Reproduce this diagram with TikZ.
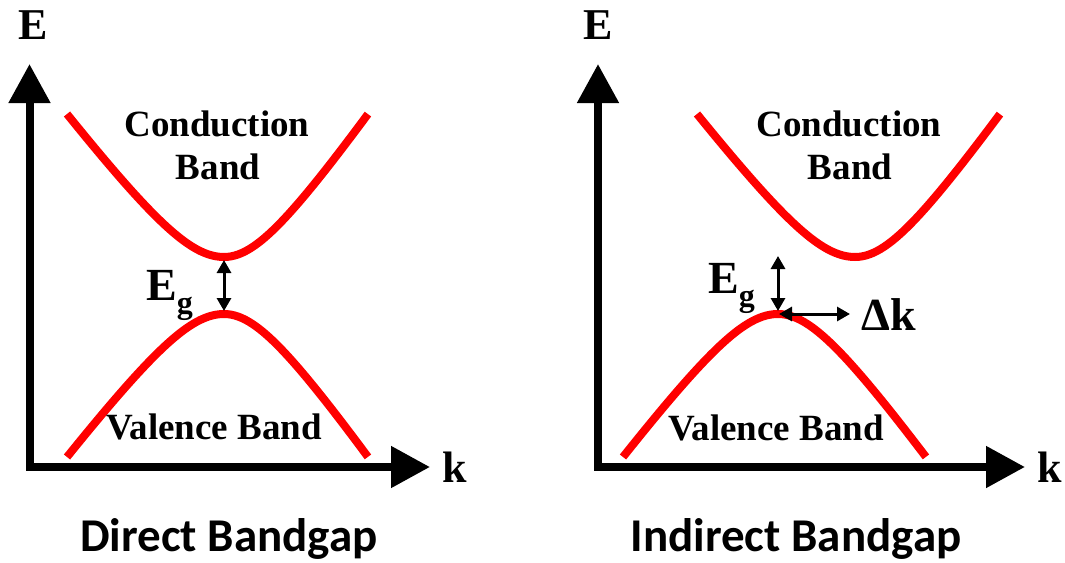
\documentclass[tikz,border=0pt]{standalone}
\usepackage{fontspec}
\setmainfont{Liberation Serif}
\newfontfamily\capfont{Carlito}
\usetikzlibrary{positioning, arrows.meta}

\begin{document}
\begin{tikzpicture}[
		x=1pt, y=-1pt,
		% normalised band shape, u in [-1,1]
		declare function={hyp(\u)=(sqrt(1+(2.6*\u)^2)-1)/(sqrt(1+2.6^2)-1);},
		% Styles for the axes and the bands
		axis/.style={
			line width=8pt, line join=miter,
			{Triangle[length=39pt, width=40pt]}-{Triangle[length=39pt, width=40pt]}
		},
		band/.style={line width=8pt, red, samples=81, smooth},
		gaparrow/.style={
			line width=3pt,
			{Triangle[length=13pt, width=14pt]}-{Triangle[length=13pt, width=14pt]}
		},
		% Styles for the labels
		axislabel/.style={font=\fontsize{44}{44}\selectfont\bfseries, inner sep=0pt, anchor=base},
		gaplabel/.style={font=\fontsize{46}{46}\selectfont\bfseries, inner sep=0pt, anchor=base west},
		bandlabel/.style={font=\fontsize{37}{37}\selectfont\bfseries, inner sep=0pt, anchor=base},
		caption/.style={font=\capfont\fontsize{47}{47}\selectfont\bfseries, inner sep=0pt, anchor=base}
		]
		
		\useasboundingbox (0,0) rectangle (1065,562);
		
		% ==========================================
		% 1. THE LEFT: Direct Bandgap
		% ==========================================
		\coordinate (d_origin) at (29.5,467);
		\coordinate (d_ytip) at (29.5,64);
		\coordinate (d_xtip) at (430,467);
		\draw[axis] (d_ytip) -- (d_origin) -- (d_xtip);
		\node[axislabel] (d_E) at (33,39) {E};
		\node[axislabel] (d_k) at (455,482) {k};
		
		% Conduction and valence bands
		\draw[band, domain=-1:1] plot ({224+\x*(\x<0 ? 157 : 144)}, {257-143*hyp(\x)});
		\draw[band, domain=-1:1] plot ({224+\x*(\x<0 ? 157 : 144)}, {314+143*hyp(\x)});
		\node[bandlabel] (d_cb1) at (217,136) {Conduction};
		\node[bandlabel] (d_cb2) at (218,179) {Band};
		\node[bandlabel] (d_vb) at (214,439) {Valence Band};
		
		% Gap arrow
		\coordinate (d_cbmin) at (224,260);
		\coordinate (d_vbmax) at (224,311);
		\draw[gaparrow] (d_cbmin) -- (d_vbmax);
		\node[gaplabel] (d_Eg) at (146,300)
		{E\raisebox{-13pt}{\fontsize{32}{32}\selectfont g}};
		
		\node[caption] (d_title) at (229,551) {Direct Bandgap};
		
		% ==========================================
		% 2. THE RIGHT: Indirect Bandgap
		% ==========================================
		\coordinate (i_origin) at (598,467);
		\coordinate (i_ytip) at (598,64);
		\coordinate (i_xtip) at (1025,467);
		\draw[axis] (i_ytip) -- (i_origin) -- (i_xtip);
		\node[axislabel] (i_E) at (598,39) {E};
		\node[axislabel] (i_k) at (1050,482) {k};
		
		% Conduction and valence bands
		\draw[band, domain=-1:1] plot ({855+\x*(\x<0 ? 158 : 145)}, {257-143*hyp(\x)});
		\draw[band, domain=-1:1] plot ({778+\x*(\x<0 ? 155 : 148)}, {314+143*hyp(\x)});
		\node[bandlabel] (i_cb1) at (849,136) {Conduction};
		\node[bandlabel] (i_cb2) at (850,179) {Band};
		\node[bandlabel] (i_vb) at (776,440) {Valence Band};
		
		% Gap and momentum arrows
		\coordinate (i_top) at (778,256);
		\coordinate (i_vbmax) at (778,311);
		\coordinate (i_dk) at (850,314);
		\draw[gaparrow] (i_top) -- (i_vbmax);
		\draw[gaparrow] ([xshift=1pt]i_vbmax |- i_dk) -- (i_dk);
		\node[gaplabel] (i_Eg) at (708,293)
		{E\raisebox{-13pt}{\fontsize{32}{32}\selectfont g}};
		\node[gaplabel] (i_dklabel) at (861,330) {Δk};
		
		\node[caption] (i_title) at (796,551) {Indirect Bandgap};
		
	\end{tikzpicture}
\end{document}
